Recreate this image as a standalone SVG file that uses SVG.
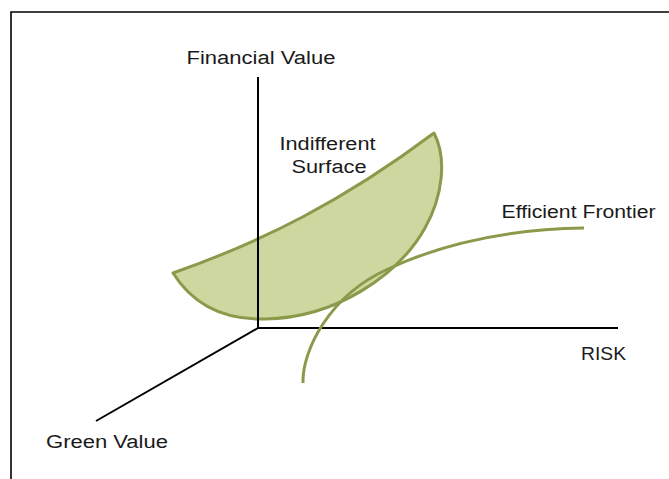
<svg xmlns="http://www.w3.org/2000/svg" width="669" height="479" viewBox="0 0 669 479">
  <style>
    .lbl { font-family: "Liberation Sans", Arial, sans-serif; font-size: 18px; fill: #1a1a1a; }
    .axis { stroke: #000; stroke-width: 2; fill: none; }
    .olive { stroke: #8a9a4b; stroke-width: 3; }
  </style>
  <rect width="669" height="479" fill="#fff"/>
  <g id="frame">
    <path d="M11,479 V12 H669" fill="none" stroke="#000" stroke-width="1.6"/>
  </g>
  <g id="indifferent-surface">
    <path class="olive" fill="#cdd79f" stroke-linejoin="round"
      d="M173,273 C263,241.5 344,200.5 434,133 C447,158 443,196 425,228 C398,276 335,318 265,319 C228,320 195,308 173,273 Z"/>
  </g>
  <g id="connectors">
    <line class="axis" x1="258" y1="77" x2="258" y2="328"/>
    <line class="axis" x1="257" y1="328" x2="618" y2="328"/>
    <line class="axis" x1="258" y1="328" x2="96" y2="421"/>
  </g>
  <g id="efficient-frontier">
    <path class="olive" fill="none" stroke-linecap="butt"
      d="M303,383 C302,352 328,296 388,269 C450,240 520,229 584,228"/>
  </g>
  <g id="labels">
    <text class="lbl" x="186.5" y="63.5" textLength="149" lengthAdjust="spacingAndGlyphs">Financial Value</text>
    <text class="lbl" x="279.5" y="149.5" textLength="96" lengthAdjust="spacingAndGlyphs">Indifferent</text>
    <text class="lbl" x="291.5" y="172.5" textLength="75" lengthAdjust="spacingAndGlyphs">Surface</text>
    <text class="lbl" x="501.5" y="218" textLength="154" lengthAdjust="spacingAndGlyphs">Efficient Frontier</text>
    <text class="lbl" x="581" y="359.5" textLength="45" lengthAdjust="spacingAndGlyphs">RISK</text>
    <text class="lbl" x="46" y="448" textLength="122" lengthAdjust="spacingAndGlyphs">Green Value</text>
  </g>
</svg>
